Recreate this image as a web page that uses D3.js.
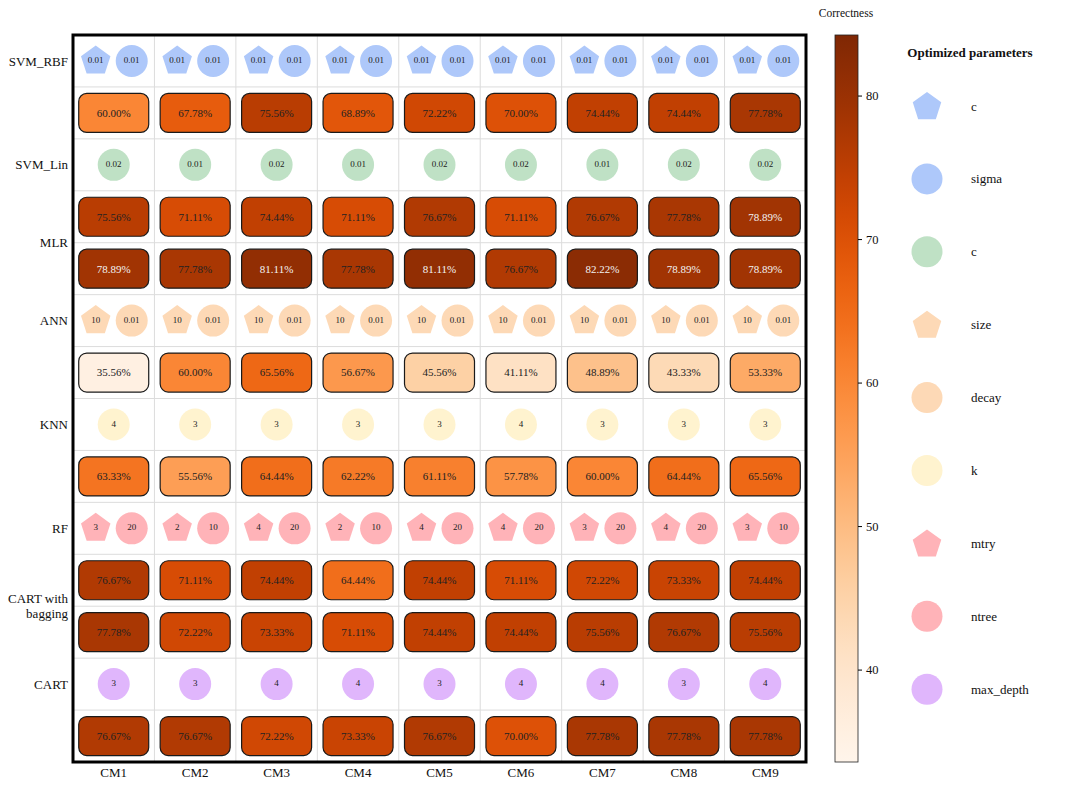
<!DOCTYPE html>
<html><head><meta charset="utf-8">
<script src="https://cdn.jsdelivr.net/npm/d3@7"></script>
<style>body{margin:0;background:#fff}svg{display:block}</style>
</head><body><svg id="c" width="1080" height="788" font-family="Liberation Serif"></svg>
<script>
const columns = ["CM1","CM2","CM3","CM4","CM5","CM6","CM7","CM8","CM9"];
const rowCount = 14;
const modelLabels = [
  {name:"SVM_RBF", row:0}, {name:"SVM_Lin", row:2}, {name:"MLR", row:3.5},
  {name:"ANN", row:5}, {name:"KNN", row:7}, {name:"RF", row:9},
  {name:"CART with", row:10.5, dy:-8}, {name:"bagging", row:10.5, dy:7}, {name:"CART", row:12}
];
// correctness rows (row index -> values)
const accSVMRBF = [60.00,67.78,75.56,68.89,72.22,70.00,74.44,74.44,77.78];
const accSVMLin = [75.56,71.11,74.44,71.11,76.67,71.11,76.67,77.78,78.89];
const accMLR    = [78.89,77.78,81.11,77.78,81.11,76.67,82.22,78.89,78.89];
const accANN    = [35.56,60.00,65.56,56.67,45.56,41.11,48.89,43.33,53.33];
const accKNN    = [63.33,55.56,64.44,62.22,61.11,57.78,60.00,64.44,65.56];
const accRF     = [76.67,71.11,74.44,64.44,74.44,71.11,72.22,73.33,74.44];
const accBag    = [77.78,72.22,73.33,71.11,74.44,74.44,75.56,76.67,75.56];
const accCART   = [76.67,76.67,72.22,73.33,76.67,70.00,77.78,77.78,77.78];
const accRows = [[1,accSVMRBF],[3,accSVMLin],[4,accMLR],[6,accANN],[8,accKNN],[10,accRF],[11,accBag],[13,accCART]];
// parameter rows
const rbfC     = ["0.01","0.01","0.01","0.01","0.01","0.01","0.01","0.01","0.01"];
const rbfSigma = ["0.01","0.01","0.01","0.01","0.01","0.01","0.01","0.01","0.01"];
const linC     = ["0.02","0.01","0.02","0.01","0.02","0.02","0.01","0.02","0.02"];
const annSize  = ["10","10","10","10","10","10","10","10","10"];
const annDecay = ["0.01","0.01","0.01","0.01","0.01","0.01","0.01","0.01","0.01"];
const knnK     = ["4","3","3","3","3","4","3","3","3"];
const rfMtry   = ["3","2","4","2","4","4","3","4","3"];
const rfNtree  = ["20","10","20","10","20","20","20","20","10"];
const cartDepth= ["3","3","4","4","3","4","4","3","4"];
// legend params: name, shape, color
const params = [
  {name:"c", shape:"pent", color:"#aec8fa"},
  {name:"sigma", shape:"circ", color:"#aec8fa"},
  {name:"c", shape:"circ", color:"#bfe1c5"},
  {name:"size", shape:"pent", color:"#fdd9b6"},
  {name:"decay", shape:"circ", color:"#fdd9b6"},
  {name:"k", shape:"circ", color:"#fff3cf"},
  {name:"mtry", shape:"pent", color:"#ffb3b8"},
  {name:"ntree", shape:"circ", color:"#ffb3b8"},
  {name:"max_depth", shape:"circ", color:"#e0b6fc"}
];
const paramRows = [
  [0, [[0,rbfC],[1,rbfSigma]]],
  [2, [[2,linC]]],
  [5, [[3,annSize],[4,annDecay]]],
  [7, [[5,knnK]]],
  [9, [[6,rfMtry],[7,rfNtree]]],
  [12,[[8,cartDepth]]]
];
const cbTicks = [40,50,60,70,80];
const allAcc = [].concat(...accRows.map(d=>d[1]));
const vmin = d3.min(allAcc)-2, vmax = d3.max(allAcc)+2;

const FONT = "Liberation Serif";
const svg = d3.select("#c");
const L=73, R=806, T=35, B=762;
const x = d3.scaleBand().domain(columns).range([L,R]);
const y = d3.scaleBand().domain(d3.range(rowCount)).range([T,B]);
const color = d3.scaleSequential(d3.interpolateOranges).domain([vmin,vmax]);

function txt(sel){ return sel.append("text").attr("font-family",FONT).style("font-family",FONT); }

function pentagon(r){
  const p = d3.path();
  for(let i=0;i<5;i++){
    const a = -Math.PI/2 + i*2*Math.PI/5;
    const px = r*Math.cos(a), py = r*Math.sin(a);
    if(i===0) p.moveTo(px,py); else p.lineTo(px,py);
  }
  p.closePath(); return p.toString();
}

const g = svg.append("g");
columns.forEach((c,i)=>{ if(i>0) g.append("line").attr("x1",x(c)).attr("x2",x(c)).attr("y1",T).attr("y2",B).attr("stroke","#dcdcdc").attr("stroke-width",1); });
d3.range(1,rowCount).forEach(r=>{ g.append("line").attr("x1",L).attr("x2",R).attr("y1",y(r)).attr("y2",y(r)).attr("stroke","#dcdcdc").attr("stroke-width",1); });

const bw=x.bandwidth(), bh=y.bandwidth();
accRows.forEach(([r,vals])=>{
  vals.forEach((v,i)=>{
    const cx = x(columns[i])+bw/2, cy=y(r)+bh/2;
    svg.append("rect").attr("x",cx-35).attr("y",cy-19.5).attr("width",70).attr("height",39)
      .attr("rx",8).attr("ry",8).attr("fill",color(v)).attr("stroke","#1a1a1a").attr("stroke-width",1.2);
    txt(svg).attr("x",cx).attr("y",cy).attr("dy","0.35em").attr("text-anchor","middle")
      .attr("font-size",11).attr("fill", v>78?"#f2f2f2":"#222").text(v.toFixed(2)+"%");
  });
});

paramRows.forEach(([r,list])=>{
  list.forEach(([pi,vals],k)=>{
    const p = params[pi];
    vals.forEach((v,i)=>{
      const off = list.length===2 ? (k===0?-18:18) : 0;
      const cx = x(columns[i])+bw/2+off, cy=y(r)+bh/2;
      if(p.shape==="pent"){
        svg.append("path").attr("d",pentagon(15.5)).attr("transform",`translate(${cx},${cy})`).attr("fill",p.color);
      } else {
        svg.append("circle").attr("cx",cx).attr("cy",cy).attr("r",16).attr("fill",p.color);
      }
      txt(svg).attr("x",cx).attr("y",cy-1).attr("dy","0.35em").attr("text-anchor","middle")
        .attr("font-size",9).attr("fill","#222").text(v);
    });
  });
});

svg.append("rect").attr("x",L).attr("y",T).attr("width",R-L).attr("height",B-T).attr("fill","none").attr("stroke","#000").attr("stroke-width",3);

modelLabels.forEach(m=>{
  const cy = y(0)+bh/2 + m.row*y.step() + (m.dy||0);
  txt(svg).attr("x",68).attr("y",cy).attr("dy","0.35em").attr("text-anchor","end").attr("font-size",13).attr("fill","#111").text(m.name);
});
columns.forEach(c=>{
  txt(svg).attr("x",x(c)+bw/2).attr("y",777).attr("text-anchor","middle").attr("font-size",13).attr("fill","#111").text(c);
});

const cbX=835, cbW=23;
const defs = svg.append("defs");
const grad = defs.append("linearGradient").attr("id","cbg").attr("x1",0).attr("x2",0).attr("y1",1).attr("y2",0);
d3.range(0,1.0001,0.05).forEach(t=>{ grad.append("stop").attr("offset",t).attr("stop-color",color(vmin+t*(vmax-vmin))); });
svg.append("rect").attr("x",cbX).attr("y",T).attr("width",cbW).attr("height",B-T).attr("fill","url(#cbg)").attr("stroke","#222").attr("stroke-width",0.8);
const cy = d3.scaleLinear().domain([vmin,vmax]).range([B,T]);
const ax = svg.append("g").attr("transform",`translate(${cbX+cbW},0)`).call(d3.axisRight(cy).tickValues(cbTicks).tickSize(4).tickPadding(4));
ax.attr("font-family",FONT);
ax.select(".domain").remove();
ax.selectAll("text").attr("font-size",12.5).attr("font-family",FONT).style("font-family",FONT).attr("fill","#111");
txt(svg).attr("x",846).attr("y",17).attr("text-anchor","middle").attr("font-size",11.5).attr("fill","#111").text("Correctness");

txt(svg).attr("x",970).attr("y",57).attr("text-anchor","middle").attr("font-size",13).attr("font-weight","bold").attr("fill","#111").text("Optimized parameters");
params.forEach((p,i)=>{
  const ly = 106 + i*72.9, lx=927;
  if(p.shape==="pent") svg.append("path").attr("d",pentagon(15)).attr("transform",`translate(${lx},${ly+1})`).attr("fill",p.color);
  else svg.append("circle").attr("cx",lx).attr("cy",ly).attr("r",15.5).attr("fill",p.color);
  txt(svg).attr("x",971).attr("y",ly).attr("dy","0.35em").attr("font-size",13).attr("fill","#111").text(p.name);
});
</script></body></html>
